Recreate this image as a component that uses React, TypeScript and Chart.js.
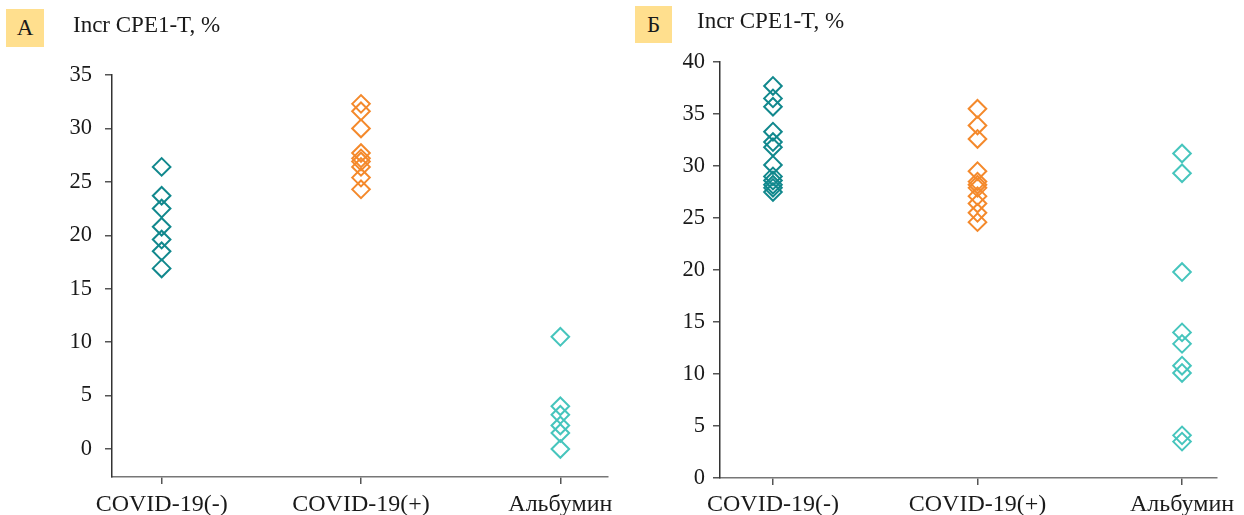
import React, { useEffect, useRef } from "react";
import { Chart, registerables } from "chart.js";

Chart.register(...registerables);

// ---- data ----
const categories = ["COVID-19(-)", "COVID-19(+)", "Альбумин"];
const titleText = "Incr CPE1-T, %";

const panelALetter = "А";
const aNeg = [26.4, 23.7, 22.5, 20.8, 19.6, 18.5, 16.9];
const aPos = [32.3, 31.6, 30.0, 27.7, 27.2, 26.9, 26.4, 25.4, 24.3];
const aAlb = [10.5, 4.0, 3.2, 2.2, 1.5, 0.0];
const aYTicks = [0, 5, 10, 15, 20, 25, 30, 35];

const panelBLetter = "Б";
const bNeg = [37.7, 36.5, 35.7, 33.3, 32.3, 31.8, 30.1, 29.0, 28.6, 28.2, 27.9, 27.5];
const bPos = [35.5, 33.9, 32.6, 29.5, 28.5, 28.2, 27.9, 27.1, 26.4, 25.5, 24.6];
const bAlb = [31.2, 29.3, 19.8, 14.0, 12.9, 10.8, 10.1, 4.1, 3.5];
const bYTicks = [0, 5, 10, 15, 20, 25, 30, 35, 40];

// ---- styles ----
const colors = ["#11888d", "#f4892b", "#46c5bd"];
const FONT = "'Liberation Serif', 'DejaVu Serif', serif";
const AXIS = "#555555";

type PanelCfg = {
  left: number;
  width: number;
  series: number[][];
  yTicks: number[];
  yMin: number;
  yMax: number;
  xMin: number;
  xMax: number;
  yAxisWidth: number;
  padTop: number;
  padRight: number;
  xAxisHeight: number;
  yTickPad: number;
  xTickPad: number;
};

function Panel({ cfg }: { cfg: PanelCfg }) {
  const ref = useRef<HTMLCanvasElement | null>(null);
  useEffect(() => {
    if (!ref.current) return;
    const datasets = cfg.series.map((vals, i) => ({
      data: vals.map((v) => ({ x: i, y: v })),
      pointStyle: "rectRot" as const,
      pointRadius: 8.8,
      pointBorderWidth: 2,
      borderColor: colors[i],
      backgroundColor: "rgba(0,0,0,0)",
      showLine: false,
      clip: false as any,
    }));
    const chart = new Chart(ref.current, {
      type: "scatter",
      data: { datasets },
      options: {
        animation: false,
        responsive: false,
        events: [],
        layout: { padding: { left: 0, top: cfg.padTop, right: cfg.padRight, bottom: 0 } },
        plugins: { legend: { display: false }, tooltip: { enabled: false }, title: { display: false } },
        scales: {
          x: {
            type: "linear",
            min: cfg.xMin,
            max: cfg.xMax,
            afterBuildTicks: (s: any) => {
              s.ticks = categories.map((_, i) => ({ value: i }));
            },
            afterFit: (s: any) => {
              s.height = cfg.xAxisHeight;
              s.paddingLeft = 0;
              s.paddingRight = 0;
            },
            ticks: {
              callback: (v: any) => categories[v as number],
              font: { family: FONT, size: 24 },
              color: "#1a1a1a",
              padding: cfg.xTickPad,
              maxRotation: 0,
              autoSkip: false,
            },
            grid: { drawOnChartArea: false, drawTicks: true, tickLength: 7, color: AXIS, lineWidth: 1.5 },
            border: { color: "#777777", width: 1.5 },
          },
          y: {
            type: "linear",
            min: cfg.yMin,
            max: cfg.yMax,
            afterBuildTicks: (s: any) => {
              s.ticks = cfg.yTicks.map((v) => ({ value: v }));
            },
            afterFit: (s: any) => {
              s.width = cfg.yAxisWidth;
              s.paddingTop = 0;
              s.paddingBottom = 0;
            },
            ticks: {
              font: { family: FONT, size: 22.5 },
              color: "#1a1a1a",
              padding: cfg.yTickPad,
              autoSkip: false,
            },
            grid: { drawOnChartArea: false, drawTicks: true, tickLength: 7, color: AXIS, lineWidth: 1.5 },
            border: { color: "#333333", width: 1.5 },
          },
        },
      },
    });
    return () => chart.destroy();
  }, []);
  return (
    <canvas
      ref={ref}
      width={cfg.width}
      height={515}
      style={{ position: "absolute", left: cfg.left, top: 0, width: cfg.width, height: 515 }}
    />
  );
}

function Label({ letter, boxLeft, boxTop, boxSize, titleLeft, titleTop }: any) {
  return (
    <>
      <div
        style={{
          position: "absolute",
          left: boxLeft,
          top: boxTop,
          width: boxSize,
          height: boxSize,
          background: "#ffdf8e",
          fontFamily: FONT,
          fontSize: 23,
          lineHeight: boxSize + "px",
          textAlign: "center",
          color: "#1a1a1a",
        }}
      >
        {letter}
      </div>
      <div
        style={{
          position: "absolute",
          left: titleLeft,
          top: titleTop,
          fontFamily: FONT,
          fontSize: 23,
          lineHeight: "23px",
          whiteSpace: "nowrap",
          color: "#1a1a1a",
        }}
      >
        {titleText}
      </div>
    </>
  );
}

export default function App() {
  const cfgA: PanelCfg = {
    left: 0,
    width: 620,
    series: [aNeg, aPos, aAlb],
    yTicks: aYTicks,
    yMin: -2.62,
    yMax: 35,
    xMin: -0.249,
    xMax: 2.239,
    yAxisWidth: 112,
    padTop: 75,
    padRight: 12,
    xAxisHeight: 38,
    yTickPad: 13,
    xTickPad: 6,
  };
  const cfgB: PanelCfg = {
    left: 620,
    width: 624,
    series: [bNeg, bPos, bAlb],
    yTicks: bYTicks,
    yMin: 0,
    yMax: 40,
    xMin: -0.259,
    xMax: 2.171,
    yAxisWidth: 100,
    padTop: 62,
    padRight: 27,
    xAxisHeight: 37,
    yTickPad: 8,
    xTickPad: 5,
  };
  return (
    <div style={{ position: "absolute", left: 0, top: 0, width: 1244, height: 515, background: "#fff", overflow: "hidden" }}>
      <Panel cfg={cfgA} />
      <Panel cfg={cfgB} />
      <Label letter={panelALetter} boxLeft={6} boxTop={9} boxSize={38} titleLeft={73} titleTop={13} />
      <Label letter={panelBLetter} boxLeft={635} boxTop={6} boxSize={37} titleLeft={697} titleTop={9} />
    </div>
  );
}
